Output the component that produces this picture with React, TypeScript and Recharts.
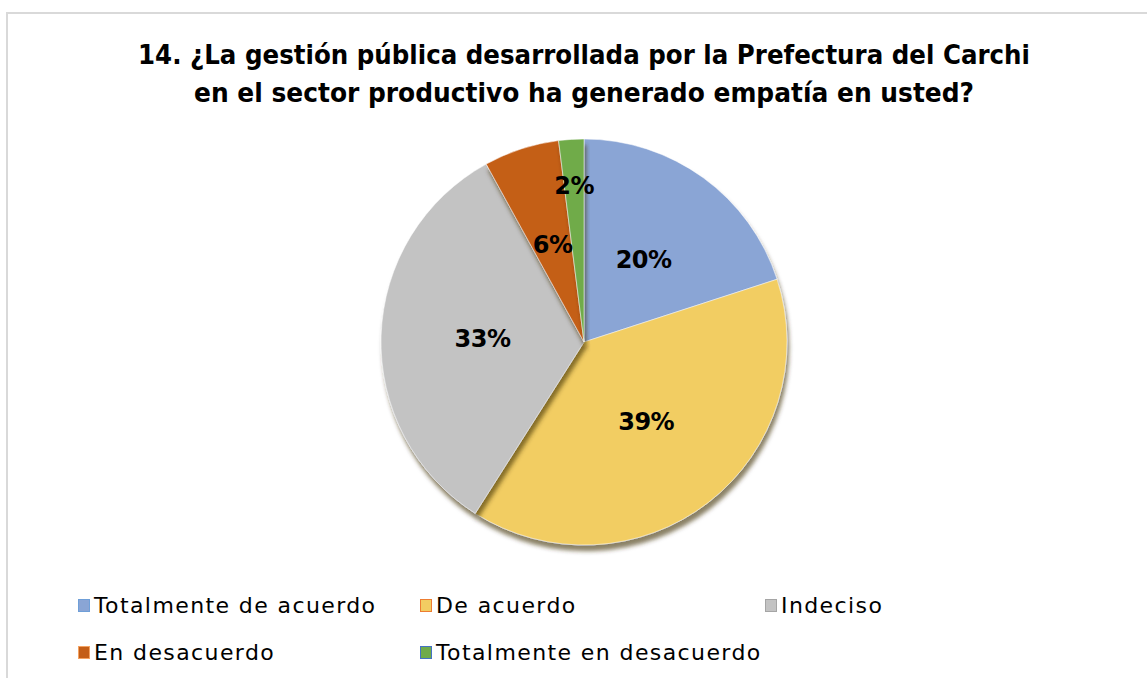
import React from "react";
import { PieChart, Pie, Cell, Legend } from "recharts";

const categories = [
  "Totalmente de acuerdo",
  "De acuerdo",
  "Indeciso",
  "En desacuerdo",
  "Totalmente en desacuerdo",
];
const values = [20, 39, 33, 6, 2];
const labels = ["20%", "39%", "33%", "6%", "2%"];
const colors = ["#8aa5d5", "#f2cd62", "#c3c3c3", "#c45e17", "#6fab4a"];
const markerBorders = ["#6f9fd8", "#ed7d31", "#a5a5a5", "#f4a261", "#4472c4"];
const titleLines = [
  "14. ¿La gestión pública desarrollada por la Prefectura del Carchi",
  "en el sector productivo ha generado empatía en usted?",
];

const data = categories.map((name, i) => ({ name, value: values[i], label: labels[i] }));

const FONT = "'DejaVu Sans', 'Liberation Sans', sans-serif";

const RADIAN = Math.PI / 180;
const renderLabel = (props: any) => {
  const { cx, cy, midAngle, outerRadius, index } = props;
  const f = index === 4 ? 0.77 : 0.5;
  const r = outerRadius * f;
  const x = cx + r * Math.cos(-midAngle * RADIAN);
  const y = cy + r * Math.sin(-midAngle * RADIAN);
  return (
    <text
      x={x}
      y={y}
      textAnchor="middle"
      dominantBaseline="central"
      fill="#000"
      fontFamily={FONT}
      fontWeight="bold"
      fontSize={24}
      letterSpacing={-0.5}
    >
      {labels[index]}
    </text>
  );
};

const legendPos = [
  { x: 78, y: 607 },
  { x: 420, y: 607 },
  { x: 765, y: 607 },
  { x: 78, y: 654 },
  { x: 420, y: 654 },
];

const renderLegend = () => (
  <div style={{ position: "relative", width: 1147, height: 678 }}>
    {categories.map((c, i) => (
      <div
        key={c}
        style={{
          position: "absolute",
          left: legendPos[i].x,
          top: legendPos[i].y - 14,
          display: "flex",
          alignItems: "center",
          fontFamily: FONT,
          fontSize: 22,
          color: "#000",
          whiteSpace: "nowrap",
        }}
      >
        <span
          style={{
            display: "inline-block",
            width: 10,
            height: 11,
            background: colors[i],
            border: `1.5px solid ${markerBorders[i]}`,
            marginRight: 4,
          }}
        />
        <span style={{ letterSpacing: 1.4 }}>{c}</span>
      </div>
    ))}
  </div>
);

export default function App() {
  return (
    <div
      style={{
        position: "absolute",
        left: 0,
        top: 0,
        width: 1147,
        height: 678,
        background: "#fff",
        overflow: "hidden",
      }}
    >
      <div
        style={{
          position: "absolute",
          left: 6,
          top: 12,
          width: 1141,
          height: 666,
          borderTop: "2px solid #d9d9d9",
          borderLeft: "2px solid #d9d9d9",
        }}
      />
      <svg
        width={1147}
        height={120}
        style={{ position: "absolute", left: 0, top: 0 }}
      >
        {titleLines.map((t, i) => (
          <text
            key={i}
            x={584}
            y={64 + i * 38}
            textAnchor="middle"
            fontFamily={FONT}
            fontWeight="bold"
            fontSize={27}
            fill="#000"
            textLength={i === 0 ? 892 : 780}
            lengthAdjust="spacingAndGlyphs"
          >
            {t}
          </text>
        ))}
      </svg>
      <div style={{ position: "absolute", left: 0, top: 0 }}>
        <PieChart width={1147} height={678} margin={{ top: 0, right: 0, bottom: 0, left: 0 }}>
          <defs>
            <filter id="shadow" x="-20%" y="-20%" width="140%" height="140%">
              <feDropShadow dx="2" dy="6" stdDeviation="2" floodColor="#3a2a00" floodOpacity="0.6" />
            </filter>
          </defs>
          <Pie
            data={data}
            dataKey="value"
            nameKey="name"
            cx={584}
            cy={342}
            outerRadius={203}
            startAngle={90}
            endAngle={-270}
            stroke="#ffffff"
            strokeWidth={0.5}
            label={renderLabel}
            labelLine={false}
            isAnimationActive={false}
            style={{ filter: "url(#shadow)" }}
          >
            {data.map((d, i) => (
              <Cell key={d.name} fill={colors[i]} />
            ))}
          </Pie>
          <Legend
            content={renderLegend}
            wrapperStyle={{ position: "absolute", left: 0, top: 0, width: 1147, height: 678 }}
          />
        </PieChart>
      </div>
    </div>
  );
}
